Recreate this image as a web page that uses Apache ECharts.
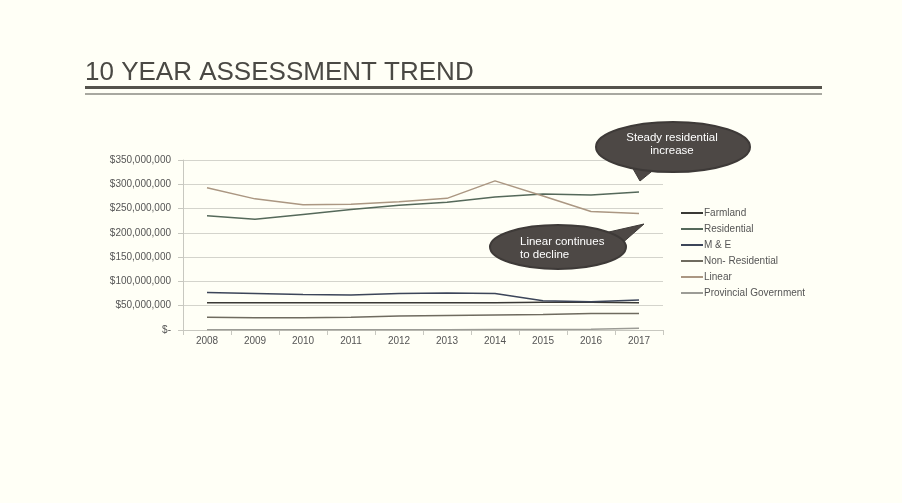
<!DOCTYPE html>
<html><head><meta charset="utf-8">
<script src="https://cdn.jsdelivr.net/npm/echarts@6/dist/echarts.min.js"></script>
<style>html,body{margin:0;padding:0;background:#fffff6;}#c{width:902px;height:503px;}</style>
</head><body><div id="c"></div>
<script>
const years = ['2008','2009','2010','2011','2012','2013','2014','2015','2016','2017'];
const farmland = [56000000,56000000,56000000,56000000,56000000,56000000,56000000,57000000,57000000,56000000];
const residential = [235000000,228000000,238000000,248000000,257000000,263000000,274000000,280000000,278000000,284000000];
const mAndE = [77000000,75000000,73000000,72000000,75000000,76000000,75000000,60000000,58000000,62000000];
const nonResidential = [26000000,25000000,25000000,26000000,29000000,30000000,31000000,32000000,34000000,34000000];
const linear = [293000000,270000000,258000000,259000000,264000000,271000000,307000000,276000000,244000000,240000000];
const provincial = [500000,500000,500000,500000,600000,700000,800000,1000000,1800000,3500000];
const seriesNames = ['Farmland','Residential','M & E','Non- Residential','Linear','Provincial Government'];
const seriesData = [farmland,residential,mAndE,nonResidential,linear,provincial];
const colors = ['#3a3935','#55695a','#3c4559','#6f6b5f','#ab9782','#9c9c96'];

const chart = echarts.init(document.getElementById('c'));
function fmt(v){ if(v===0) return '$-'; return '$' + v.toLocaleString('en-US'); }
chart.setOption({
  backgroundColor:'#fffff6',
  animation:false,
  title:{text:'10 YEAR ASSESSMENT TREND',left:80,top:55,textStyle:{fontFamily:'Liberation Sans',fontSize:26,fontWeight:'normal',color:'#4a4944'}},
  grid:{left:183,right:239,top:160,bottom:173},
  legend:{orient:'vertical',left:676,top:203,itemWidth:22,itemHeight:2,itemGap:6,icon:'rect',
    textStyle:{fontFamily:'Liberation Sans',fontSize:10,color:'#555',padding:[0,0,0,-4]},data:seriesNames},
  xAxis:{type:'category',data:years,boundaryGap:true,
    axisLine:{lineStyle:{color:'#c8c8c0'}},axisTick:{show:true,length:5,lineStyle:{color:'#c8c8c0'}},
    axisLabel:{fontFamily:'Liberation Sans',fontSize:10,color:'#555',margin:6}},
  yAxis:{type:'value',min:0,max:350000000,interval:50000000,
    axisLine:{show:true,lineStyle:{color:'#c8c8c0'}},axisTick:{show:true,length:5,inside:false,lineStyle:{color:'#c8c8c0'}},
    splitLine:{lineStyle:{color:'#d4d4cc'}},
    axisLabel:{formatter:fmt,fontFamily:'Liberation Sans',fontSize:10,color:'#555',margin:12}},
  series:seriesData.map((d,i)=>({name:seriesNames[i],type:'line',data:d,symbol:'none',
    lineStyle:{width:1.5,color:colors[i]},itemStyle:{color:colors[i]}})),
  graphic:[
    {type:'rect',z:100,shape:{x:85,y:86,width:737,height:3},style:{fill:'#55534c'}},
    {type:'rect',z:100,shape:{x:85,y:93,width:737,height:2},style:{fill:'#a8a8a0'}},
    {type:'polygon',z:100,shape:{points:[[628,160],[662,163],[640,181]]},style:{fill:'#4d4845',stroke:'#3e3a38',lineWidth:1}},
    {type:'ellipse',z:101,shape:{cx:673,cy:147,rx:77,ry:25},style:{fill:'#4d4845',stroke:'#3e3a38',lineWidth:2}},
    {type:'text',z:102,x:672,y:131,style:{text:'Steady residential\nincrease',textAlign:'center',fill:'#fff',fontFamily:'Liberation Sans',fontSize:11.5,lineHeight:13}},
    {type:'polygon',z:100,shape:{points:[[600,234],[644,224],[612,252]]},style:{fill:'#4d4845',stroke:'#3e3a38',lineWidth:1}},
    {type:'ellipse',z:101,shape:{cx:558,cy:247,rx:68,ry:22},style:{fill:'#4d4845',stroke:'#3e3a38',lineWidth:2}},
    {type:'text',z:102,x:520,y:235,style:{text:'Linear continues\nto decline',fill:'#fff',fontFamily:'Liberation Sans',fontSize:11.5,lineHeight:13}}
  ]
});
</script></body></html>
